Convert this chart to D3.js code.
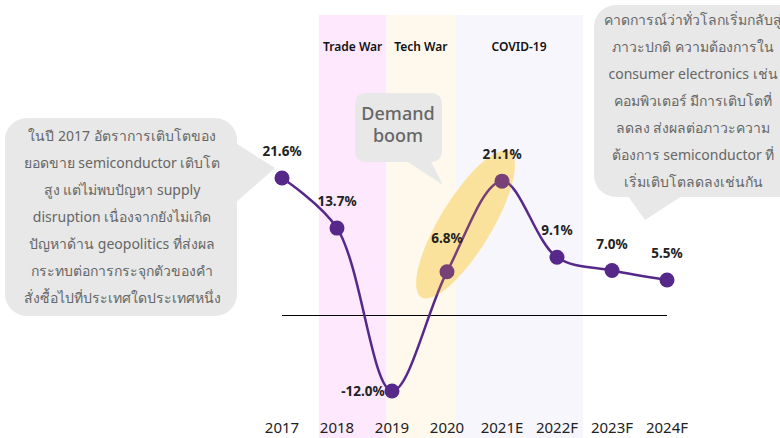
<!DOCTYPE html>
<html>
<head>
<meta charset="utf-8">
<script src="https://cdn.jsdelivr.net/npm/d3@7"></script>
<style>
  body { margin: 0; background: #fff; }
  svg { display: block; font-family: "Noto Sans", "Open Sans", sans-serif; }
</style>
</head>
<body>
<div id="viz"></div>
<script>
// semiconductor sales growth, %
var years = ["2017", "2018", "2019", "2020", "2021E", "2022F", "2023F", "2024F"];
var growth = [21.6, 13.7, -12.0, 6.8, 21.1, 9.1, 7.0, 5.5];

// shaded periods, in category-index units
var periods = ["Trade War", "Tech War", "COVID-19"];
var periodStart = [0.67, 1.9, 3.15];
var periodEnd = [1.9, 3.15, 5.47];
var periodColor = ["#fde8fd", "#fef9ec", "#f8f6fd"];

var leftNote = [
  "ในปี 2017 อัตราการเติบโตของ",
  "ยอดขาย semiconductor เติบโต",
  "สูง แต่ไม่พบปัญหา supply",
  "disruption เนื่องจากยังไม่เกิด",
  "ปัญหาด้าน geopolitics ที่ส่งผล",
  "กระทบต่อการกระจุกตัวของคำ",
  "สั่งซื้อไปที่ประเทศใดประเทศหนึ่ง"
];
var rightNote = [
  "คาดการณ์ว่าทั่วโลกเริ่มกลับสู่",
  "ภาวะปกติ ความต้องการใน",
  "consumer electronics เช่น",
  "คอมพิวเตอร์ มีการเติบโตที่",
  "ลดลง ส่งผลต่อภาวะความ",
  "ต้องการ semiconductor ที่",
  "เริ่มเติบโตลดลงเช่นกัน"
];

var W = 780, H = 438;
var svg = d3.select("#viz").append("svg")
  .attr("width", W)
  .attr("height", H);

var x = d3.scaleLinear().domain([0, years.length - 1]).range([282, 667]);
var y = d3.scaleLinear().domain([-12, 21.6]).range([391, 178]);

// period bands
periods.forEach(function(p, i) {
  svg.append("rect")
    .attr("x", x(periodStart[i]))
    .attr("y", 15)
    .attr("width", x(periodEnd[i]) - x(periodStart[i]))
    .attr("height", H - 15)
    .attr("fill", periodColor[i]);
  svg.append("text")
    .attr("x", (x(periodStart[i]) + x(periodEnd[i])) / 2)
    .attr("y", 51)
    .attr("text-anchor", "middle")
    .attr("font-size", 12)
    .attr("font-weight", 600)
    .attr("fill", "#111")
    .text(p);
});

// zero line
var y0 = Math.round(y(0)) + 0.5;
svg.append("line")
  .attr("x1", x(0)).attr("x2", x(years.length - 1))
  .attr("y1", y0).attr("y2", y0)
  .attr("stroke", "#000")
  .attr("stroke-width", 1);

// x labels
svg.selectAll(".year").data(years).enter().append("text")
  .attr("class", "year")
  .attr("x", function(d, i) { return x(i); })
  .attr("y", 433)
  .attr("text-anchor", "middle")
  .attr("font-size", 15)
  .attr("fill", "#222")
  .text(function(d) { return d; });

// demand boom highlight (2020 -> 2021E)
var ax = x(3), ay = y(growth[3]), bx = x(4), by = y(growth[4]);
var ang = Math.atan2(by - ay, bx - ax) * 180 / Math.PI;
var ellT = "translate(" + ((ax + bx) / 2 - 9) + "," + ((ay + by) / 2 - 2) + ") rotate(" + ang + ")";
svg.append("ellipse")
  .attr("transform", ellT)
  .attr("rx", 85)
  .attr("ry", 26)
  .attr("fill", "#fbf3b9");

// line
var line = d3.line()
  .x(function(d, i) { return x(i); })
  .y(function(d) { return y(d); })
  .curve(d3.curveCatmullRom.alpha(0.5));

svg.append("path")
  .attr("d", line(growth))
  .attr("fill", "none")
  .attr("stroke", "#55288a")
  .attr("stroke-width", 2.5);

svg.selectAll(".pt").data(growth).enter().append("circle")
  .attr("class", "pt")
  .attr("cx", function(d, i) { return x(i); })
  .attr("cy", function(d) { return y(d); })
  .attr("r", 7.5)
  .attr("fill", "#55288a");

// tint over the highlighted part
svg.append("ellipse")
  .attr("transform", ellT)
  .attr("rx", 85)
  .attr("ry", 26)
  .attr("fill", "#ffa028")
  .attr("opacity", 0.2);

// value labels
svg.selectAll(".val").data(growth).enter().append("text")
  .attr("class", "val")
  .attr("x", function(d, i) { return d < 0 ? x(i) - 29 : x(i); })
  .attr("y", function(d, i) {
    if (d < 0) return y(d) + 5;
    if (i == 3) return y(d) - 29;
    return y(d) - 22;
  })
  .attr("text-anchor", "middle")
  .attr("font-size", 13.5)
  .attr("font-weight", 700)
  .attr("fill", "#222")
  .text(function(d) { return d.toFixed(1) + "%"; });

// callouts
function callout(box, tip, lines, cx, ty, lh, size, weight) {
  svg.append("path")
    .attr("d", "M" + tip[0][0] + " " + tip[0][1] + " L" + tip[1][0] + " " + tip[1][1] + " L" + tip[2][0] + " " + tip[2][1] + "z")
    .attr("fill", "#e8e8e8");
  svg.append("rect")
    .attr("x", box[0]).attr("y", box[1])
    .attr("width", box[2]).attr("height", box[3])
    .attr("rx", box[4]).attr("ry", box[4])
    .attr("fill", "#e8e8e8");
  lines.forEach(function(t, i) {
    svg.append("text")
      .attr("x", cx)
      .attr("y", ty + i * lh)
      .attr("text-anchor", "middle")
      .attr("font-size", size)
      .attr("font-weight", weight)
      .attr("fill", "#666")
      .text(t);
  });
}

callout([5, 118, 232, 198, 22], [[234, 142], [275, 168], [234, 204]], leftNote, 122, 141, 27, 14, 400);
callout([594, 5, 210, 192, 22], [[628, 196], [645, 220], [682, 196]], rightNote, 693, 25, 27, 14, 400);
callout([355, 93, 87, 69, 10], [[405, 160], [443, 185], [430, 160]], ["Demand", "boom"], 398, 120, 22, 18, 500);
</script>
</body>
</html>
